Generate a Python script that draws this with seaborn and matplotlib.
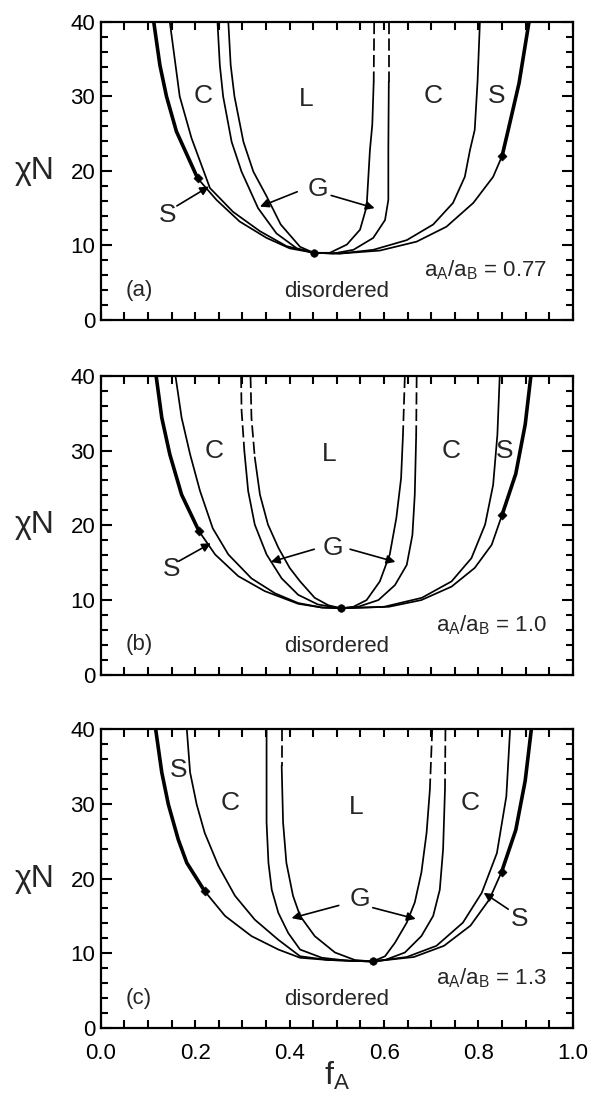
import matplotlib
matplotlib.use("Agg")
import matplotlib.pyplot as plt
from matplotlib.ticker import MultipleLocator, FormatStrFormatter
import pandas as pd
import seaborn as sns

# ==============================================================================
# 1. DADOS
# ==============================================================================
ratios = ["0.77", "1.0", "1.3"]
tags = ["(a)", "(b)", "(c)"]

# ponto critico de cada painel
crit_f = [0.451, 0.509, 0.576]
crit_chi = [9.0, 8.9, 8.9]

# losangos sobre a ODT (esquerda, direita)
diam_f = [[0.205, 0.850], [0.208, 0.850], [0.220, 0.849]]
diam_chi = [[19.0, 22.0], [19.2, 21.4], [18.3, 20.9]]

# painel (a)  a_A/a_B = 0.77
odt_a_f = [0.112, 0.125, 0.139, 0.160, 0.205, 0.245, 0.294, 0.351, 0.400, 0.451,
           0.506, 0.591, 0.669, 0.732, 0.789, 0.831, 0.850, 0.863, 0.886, 0.907]
odt_a_chi = [40.0, 34.2, 30.0, 25.3, 19.0, 16.1, 13.2, 11.0, 9.6, 9.0,
             8.9, 9.3, 10.5, 12.5, 15.7, 19.2, 22.0, 25.5, 31.8, 40.0]
sc_a_f = [0.146, 0.167, 0.192, 0.231, 0.280, 0.337, 0.393, 0.451,
          0.506, 0.577, 0.648, 0.704, 0.746, 0.771, 0.782, 0.792, 0.798, 0.803]
sc_a_chi = [40.0, 30.0, 24.4, 17.7, 14.5, 11.9, 9.9, 9.0,
            8.9, 9.4, 10.7, 12.8, 15.7, 19.2, 22.8, 25.5, 32.0, 40.0]
cg_a_f = [0.247, 0.252, 0.259, 0.277, 0.298, 0.333, 0.372, 0.415, 0.451,
          0.492, 0.535, 0.577, 0.602, 0.609, 0.609, 0.610, 0.610]
cg_a_chi = [40.0, 34.2, 30.0, 23.9, 19.9, 15.0, 11.6, 9.6, 9.0,
            8.9, 9.4, 11.0, 13.4, 16.1, 23.0, 32.0, 40.0]
gl_a_f = [0.270, 0.275, 0.283, 0.302, 0.323, 0.351, 0.381, 0.422, 0.451,
          0.485, 0.521, 0.549, 0.563, 0.570, 0.575, 0.578, 0.579]
gl_a_chi = [40.0, 34.2, 30.0, 23.9, 19.9, 16.6, 12.8, 9.8, 9.0,
            9.0, 10.1, 12.1, 15.2, 22.8, 26.2, 32.0, 40.0]

# painel (b)  a_A/a_B = 1.0
odt_b_f = [0.117, 0.129, 0.146, 0.171, 0.208, 0.242, 0.291, 0.347, 0.418, 0.468, 0.509,
           0.610, 0.679, 0.743, 0.792, 0.828, 0.850, 0.879, 0.899, 0.911]
odt_b_chi = [40.0, 34.4, 29.5, 24.1, 19.2, 16.1, 13.2, 11.2, 9.5, 9.0, 8.9,
             9.1, 10.0, 11.8, 14.3, 17.4, 21.4, 26.9, 33.5, 40.0]
sc_b_f = [0.158, 0.171, 0.189, 0.210, 0.237, 0.270, 0.319, 0.369, 0.418, 0.468, 0.509,
          0.600, 0.680, 0.743, 0.785, 0.814, 0.831, 0.840, 0.845]
sc_b_chi = [40.0, 34.4, 29.5, 24.6, 19.6, 16.1, 12.9, 10.9, 9.6, 9.0, 8.9,
            9.1, 10.3, 12.5, 15.6, 20.1, 25.4, 32.1, 40.0]
cg_b_f = [0.297, 0.298, 0.304, 0.312, 0.326, 0.351, 0.383, 0.418, 0.460, 0.509,
          0.545, 0.588, 0.623, 0.648, 0.660, 0.665, 0.668, 0.669]
cg_b_chi = [40.0, 35.4, 29.9, 24.6, 20.1, 16.1, 12.9, 10.7, 9.4, 8.9,
            9.1, 10.0, 12.0, 14.7, 18.7, 24.1, 32.1, 40.0]
gl_b_f = [0.317, 0.319, 0.326, 0.337, 0.354, 0.376, 0.400, 0.422, 0.453, 0.482, 0.509,
          0.535, 0.563, 0.591, 0.612, 0.626, 0.636, 0.640, 0.644]
gl_b_chi = [40.0, 34.4, 29.1, 24.1, 20.1, 17.0, 14.3, 12.5, 10.3, 9.3, 8.9,
            9.1, 10.0, 12.5, 16.1, 21.0, 26.3, 32.1, 40.0]

# painel (c)  a_A/a_B = 1.3
odt_c_f = [0.116, 0.129, 0.143, 0.164, 0.182, 0.220, 0.263, 0.319, 0.376, 0.422, 0.482, 0.576,
           0.663, 0.727, 0.783, 0.823, 0.849, 0.879, 0.899, 0.912]
odt_c_chi = [40.0, 34.2, 29.9, 25.2, 22.1, 18.3, 15.0, 12.3, 10.5, 9.4, 9.1, 8.9,
             9.5, 11.0, 13.7, 17.2, 20.9, 26.5, 33.1, 40.0]
sc_c_f = [0.182, 0.189, 0.203, 0.220, 0.249, 0.284, 0.326, 0.376, 0.422, 0.482, 0.576,
          0.648, 0.711, 0.767, 0.807, 0.839, 0.859, 0.867]
sc_c_chi = [40.0, 34.2, 29.9, 26.1, 21.7, 17.7, 14.5, 11.8, 9.6, 9.1, 8.9,
            9.5, 11.0, 14.1, 18.1, 23.4, 31.0, 40.0]
cg_c_f = [0.351, 0.351, 0.355, 0.362, 0.376, 0.397, 0.422, 0.468, 0.524, 0.576,
          0.602, 0.644, 0.679, 0.704, 0.718, 0.725, 0.729, 0.730]
cg_c_chi = [40.0, 27.5, 22.1, 18.5, 15.4, 12.7, 10.5, 9.4, 9.0, 8.9,
            9.1, 10.1, 12.3, 15.0, 18.5, 23.9, 31.9, 40.0]
gl_c_f = [0.383, 0.383, 0.386, 0.393, 0.407, 0.422, 0.453, 0.496, 0.538, 0.576,
          0.602, 0.623, 0.648, 0.665, 0.679, 0.690, 0.697, 0.702]
gl_c_chi = [40.0, 35.1, 27.5, 22.1, 17.7, 15.0, 12.3, 10.1, 9.1, 8.9,
            9.6, 11.4, 14.1, 16.8, 20.8, 26.1, 31.9, 40.0]

# lados tracejados no topo (L = esquerda, R = direita)
dash_a = {"cg": "R", "gl": "R"}
dash_b = {"cg": "LR", "gl": "LR"}
dash_c = {"cg": "LR", "gl": "LR"}
dash_chi = 28.0

# rotulos de regiao: (texto, f, chiN)
labels_a = [("C", 0.217, 30.0), ("L", 0.436, 29.6), ("C", 0.703, 30.0), ("S", 0.839, 30.0),
            ("G", 0.460, 17.6), ("S", 0.141, 14.1)]
labels_b = [("C", 0.239, 30.0), ("L", 0.484, 29.5), ("C", 0.743, 30.0), ("S", 0.855, 30.0),
            ("G", 0.492, 17.0), ("S", 0.149, 14.1)]
labels_c = [("S", 0.165, 34.5), ("C", 0.273, 30.1), ("L", 0.540, 29.6), ("C", 0.783, 30.1),
            ("G", 0.548, 17.2), ("S", 0.887, 14.6)]

# setas: (f_inicio, chi_inicio, f_ponta, chi_ponta)
arrows_a = [(0.416, 17.2, 0.337, 15.2), (0.488, 16.7, 0.580, 15.0), (0.161, 15.3, 0.229, 17.9)]
arrows_b = [(0.452, 16.8, 0.360, 15.1), (0.528, 16.8, 0.624, 15.1), (0.165, 15.2, 0.233, 17.6)]
arrows_c = [(0.504, 16.4, 0.404, 14.7), (0.576, 16.1, 0.667, 14.6), (0.863, 15.9, 0.811, 18.1)]

# ==============================================================================
# 2. GRAFICO
# ==============================================================================
sns.set_style("ticks")
plt.rcParams['font.family'] = ['Liberation Sans', 'DejaVu Sans']
plt.rcParams['mathtext.fontset'] = 'custom'
plt.rcParams['mathtext.rm'] = 'Liberation Sans'
plt.rcParams['mathtext.it'] = 'Liberation Sans:italic'

fig = plt.figure(figsize=(5.9, 10.99), dpi=100)
rects = [[0.171, 0.709, 0.800, 0.271],
         [0.171, 0.386, 0.800, 0.272],
         [0.171, 0.0646, 0.800, 0.272]]
axs = [fig.add_axes(r) for r in rects]

panels = [
    ([(odt_a_f, odt_a_chi, "odt"), (sc_a_f, sc_a_chi, "sc"), (cg_a_f, cg_a_chi, "cg"), (gl_a_f, gl_a_chi, "gl")],
     dash_a, labels_a, arrows_a),
    ([(odt_b_f, odt_b_chi, "odt"), (sc_b_f, sc_b_chi, "sc"), (cg_b_f, cg_b_chi, "cg"), (gl_b_f, gl_b_chi, "gl")],
     dash_b, labels_b, arrows_b),
    ([(odt_c_f, odt_c_chi, "odt"), (sc_c_f, sc_c_chi, "sc"), (cg_c_f, cg_c_chi, "cg"), (gl_c_f, gl_c_chi, "gl")],
     dash_c, labels_c, arrows_c),
]


def linha(ax, df, lw, ls="-"):
    sns.lineplot(data=df, x="f", y="chi", sort=False, estimator=None, ax=ax,
                 color="black", lw=lw, linestyle=ls)


for i, ax in enumerate(axs):
    curvas, dashes, labels, arrows = panels[i]
    fc = crit_f[i]
    for f, chi, nome in curvas:
        df = pd.DataFrame({"f": f, "chi": chi})
        lados = {"L": df[df.f <= fc].reset_index(drop=True),
                 "R": df[df.f >= fc].iloc[::-1].reset_index(drop=True)}
        for k, (lado, parte) in enumerate(lados.items()):
            if lado in dashes.get(nome, ""):
                n = int((parte.chi >= dash_chi).sum())
                linha(ax, parte.iloc[:n], 1.25, (0, (7, 2.5)))
                linha(ax, parte.iloc[n - 1:], 1.25)
            else:
                linha(ax, parte, 1.25)
            if nome == "odt":
                # trecho grosso acima do losango
                linha(ax, parte[parte.chi >= diam_chi[i][k]], 2.6)

    sns.scatterplot(x=diam_f[i], y=diam_chi[i], marker="D", s=22, color="black",
                    edgecolor="black", ax=ax, zorder=5)
    sns.scatterplot(x=[crit_f[i]], y=[crit_chi[i]], marker="o", s=30, color="black",
                    edgecolor="black", ax=ax, zorder=5)

    for txt, x, y in labels:
        ax.text(x, y, txt, ha="center", va="center", fontsize=19)
    for x0, y0, x1, y1 in arrows:
        ax.annotate("", xy=(x1, y1), xytext=(x0, y0),
                    arrowprops=dict(arrowstyle="-|>", color="black", lw=1.2,
                                    mutation_scale=13, shrinkA=0, shrinkB=0))

    ax.text(0.081, 4.0, tags[i], ha="center", va="center", fontsize=16)
    ax.text(0.50, 3.8, "disordered", ha="center", va="center", fontsize=16)
    ax.text(0.945, 6.6, "a$_\\mathregular{A}$/a$_\\mathregular{B}$ = " + ratios[i],
            ha="right", va="center", fontsize=16)

    ax.set_xlim(0, 1)
    ax.set_ylim(0, 40)
    ax.xaxis.set_major_locator(MultipleLocator(0.2))
    ax.xaxis.set_minor_locator(MultipleLocator(0.05))
    ax.yaxis.set_major_locator(MultipleLocator(10))
    ax.yaxis.set_minor_locator(MultipleLocator(2))
    ax.tick_params(which="both", direction="in", top=True, right=True, width=1.5,
                   labelsize=16, colors="black")
    ax.tick_params(axis="x", which="both", length=6, pad=11)
    ax.tick_params(axis="y", which="major", length=8, pad=4)
    ax.tick_params(axis="y", which="minor", length=5)
    for s in ax.spines.values():
        s.set_linewidth(1.6)
        s.set_color("black")
    ax.set_ylabel("χN", rotation=0, fontsize=23, ha="center", va="center")
    ax.yaxis.set_label_coords(-0.14, 0.5)
    if i < 2:
        ax.set_xticklabels([])
        ax.set_xlabel("")
    else:
        ax.xaxis.set_major_formatter(FormatStrFormatter("%.1f"))
        ax.set_xlabel("f$_\\mathregular{A}$", fontsize=23, labelpad=-3)

fig.savefig("out.png", dpi=100)
